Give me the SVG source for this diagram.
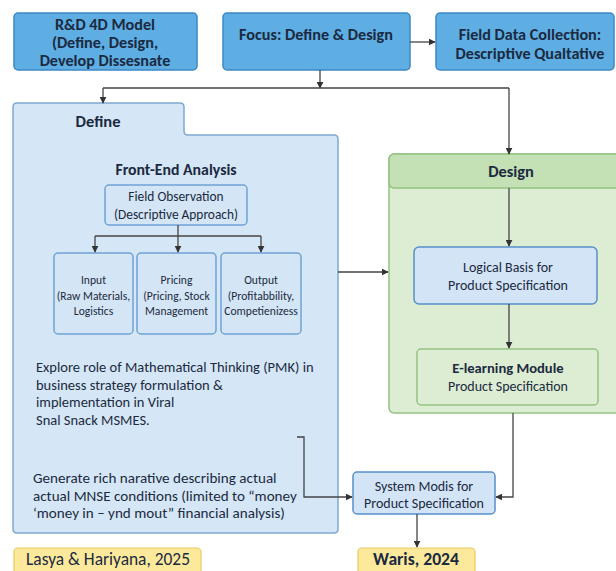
<svg xmlns="http://www.w3.org/2000/svg" width="616" height="571" viewBox="0 0 616 571">
<defs>
<marker id="ah" viewBox="0 0 10 10" refX="9" refY="5" markerWidth="7" markerHeight="7" orient="auto" markerUnits="userSpaceOnUse"><path d="M0,0 L10,5 L0,10 z" fill="#333"/></marker>
<style>
text{font-family:Carlito,Calibri,Lato,"Liberation Sans",sans-serif;fill:#1b2a40;text-anchor:middle}
.top{fill:#5eaee3;stroke:#3d88c4;stroke-width:1.5}
.tt{font-size:16.2px;font-weight:bold}
.b{font-weight:bold}
.sub{fill:#d4e5f5;stroke:#6fa3d3;stroke-width:1.5}
.blue{fill:#d3e4f7;stroke:#5a8fcb;stroke-width:1.5}
.green{fill:#ddedd3;stroke:#94c283;stroke-width:1.5}
.yel{fill:#fce99b;stroke:#e8cc62;stroke-width:1.2}
.ln{fill:none;stroke:#444;stroke-width:1.3}
.s{font-size:11.6px}
.m{font-size:13.4px}
.p{font-size:14px}
.l{text-anchor:start;font-size:14.5px}
.l2{text-anchor:start;font-size:15.1px}
</style>
</defs>
<rect width="616" height="571" fill="#ffffff"/>

<g id="rd-model">
<rect class="top" x="14" y="13" width="183" height="57" rx="4"/>
<text class="tt" x="105" y="30">R&amp;D 4D Model</text>
<text class="tt" x="105" y="48">(Define, Design,</text>
<text class="tt" x="105" y="66">Develop Dissesnate</text>
</g>
<g id="focus">
<rect class="top" x="223" y="13" width="187" height="57" rx="4"/>
<text class="tt" x="316" y="40">Focus: Define &amp; Design</text>
</g>
<g id="field-data">
<rect class="top" x="436" y="13" width="178" height="57" rx="4"/>
<text class="tt" x="530" y="40">Field Data Collection:</text>
<text class="tt" x="530" y="59">Descriptive Qualtative</text>
</g>

<g id="define">
<path d="M13,107 Q13,103 17,103 L180,103 Q184,103 184,107 L184,131 Q184,135 188,135 L334,135 Q338,135 338,139 L338,529 Q338,533 334,533 L17,533 Q13,533 13,529 Z" fill="#d5e6f6" stroke="#7ea9d2" stroke-width="1.5"/>
<text class="b" x="98" y="127" style="font-size:16.5px">Define</text>
<text class="b" x="176" y="175" style="font-size:15.8px">Front-End Analysis</text>
<text class="l" x="36" y="372">Explore role of Mathematical Thinking (PMK) in</text>
<text class="l" x="36" y="390">business strategy formulation &amp;</text>
<text class="l" x="36" y="407">implementation in Viral</text>
<text class="l" x="36" y="425">Snal Snack MSMES.</text>
<text class="l2" x="33" y="483">Generate rich narative describing actual</text>
<text class="l2" x="33" y="501">actual MNSE conditions (limited to “money</text>
<text class="l2" x="33" y="518">‘money in – ynd mout” financial analysis)</text>
</g>
<g id="field-observation">
<rect class="sub" x="105" y="185" width="142" height="40" rx="4"/>
<text class="m" x="176" y="201">Field Observation</text>
<text class="m" x="176" y="219">(Descriptive Approach)</text>
</g>
<g id="input">
<rect class="sub" x="54" y="253" width="79" height="81" rx="4"/>
<text class="s" x="93.5" y="284">Input</text>
<text class="s" x="93.5" y="300">(Raw Materials,</text>
<text class="s" x="93.5" y="315">Logistics</text>
</g>
<g id="pricing">
<rect class="sub" x="137" y="253" width="79" height="81" rx="4"/>
<text class="s" x="176.5" y="284">Pricing</text>
<text class="s" x="176.5" y="300">(Pricing, Stock</text>
<text class="s" x="176.5" y="315">Management</text>
</g>
<g id="output">
<rect class="sub" x="221" y="253" width="80" height="81" rx="4"/>
<text class="s" x="261" y="284">Output</text>
<text class="s" x="261" y="300">(Profitabbility,</text>
<text class="s" x="261" y="315">Competienizess</text>
</g>

<g id="design">
<rect x="389" y="154" width="240" height="259" rx="5" fill="#ddedd3" stroke="#94c283" stroke-width="1.5"/>
<rect x="389" y="154" width="240" height="34" rx="5" fill="#c4e0b5" stroke="#94c283" stroke-width="1.5"/>
<text class="b" x="511" y="177" style="font-size:16.4px">Design</text>
</g>
<g id="logical-basis">
<rect class="blue" x="414" y="247" width="183" height="57" rx="5"/>
<text class="p" x="508" y="272">Logical Basis for</text>
<text class="p" x="508" y="290">Product Specification</text>
</g>
<g id="e-learning">
<rect class="green" x="417" y="349" width="181" height="56" rx="4"/>
<text class="b" x="508" y="373" style="font-size:14.6px">E-learning Module</text>
<text class="p" x="508" y="391">Product Specification</text>
</g>
<g id="system-modis">
<rect class="blue" x="353" y="472" width="142" height="42" rx="4"/>
<text class="p" x="424" y="491">System Modis for</text>
<text class="p" x="424" y="508">Product Specification</text>
</g>
<g id="lasya">
<rect class="yel" x="14" y="548" width="187" height="30" rx="4"/>
<text x="108" y="565" style="font-size:17.4px">Lasya &amp; Hariyana, 2025</text>
</g>
<g id="waris">
<rect class="yel" x="358" y="548" width="117" height="30" rx="4"/>
<text class="b" x="416" y="565" style="font-size:17.6px">Waris, 2024</text>
</g>

<g id="connectors">
<path class="ln" d="M410,42 L435,42" marker-end="url(#ah)"/>
<path class="ln" d="M320,70 L320,88" marker-end="url(#ah)"/>
<path class="ln" d="M103,88 L509,88"/>
<path class="ln" d="M103,88 L103,103" marker-end="url(#ah)"/>
<path class="ln" d="M509,88 L509,154" marker-end="url(#ah)"/>
<path class="ln" d="M178,225 L178,252" marker-end="url(#ah)"/>
<path class="ln" d="M95,236 L261,236"/>
<path class="ln" d="M95,236 L95,252" marker-end="url(#ah)"/>
<path class="ln" d="M261,236 L261,252" marker-end="url(#ah)"/>
<path class="ln" d="M338,272 L388,272" marker-end="url(#ah)"/>
<path class="ln" d="M509,188 L509,246" marker-end="url(#ah)"/>
<path class="ln" d="M509,304 L509,348" marker-end="url(#ah)"/>
<path class="ln" d="M297,437 L304,437 L304,497 L352,497" marker-end="url(#ah)"/>
<path class="ln" d="M513,413 L513,497 L496,497" marker-end="url(#ah)"/>
<path class="ln" d="M417,514 L417,547" marker-end="url(#ah)"/>
</g>
</svg>
